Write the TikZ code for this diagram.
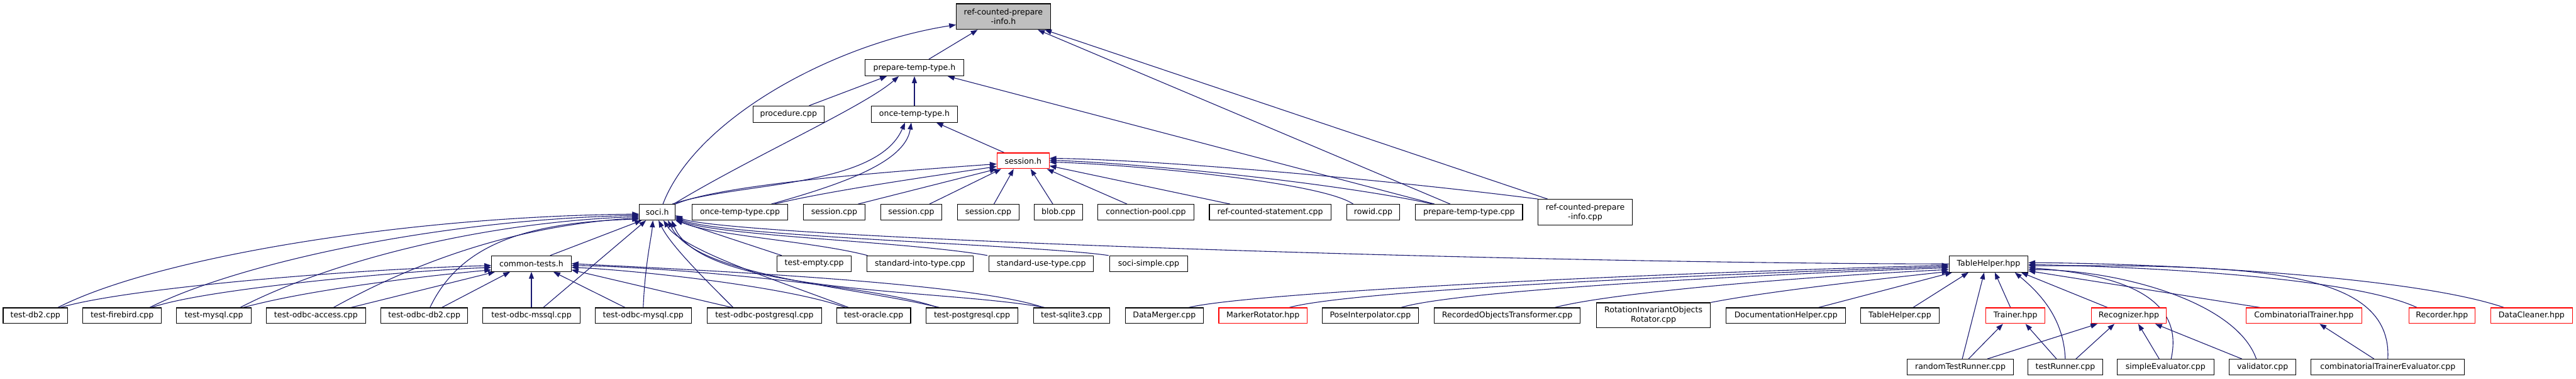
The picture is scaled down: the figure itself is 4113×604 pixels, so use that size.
\documentclass[tikz,border=0pt]{standalone}
\usepackage{fontspec}
\setmainfont{DejaVu Sans}
\usetikzlibrary{arrows.meta}
\definecolor{navy}{HTML}{191970}
\definecolor{boxgray}{HTML}{BFBFBF}
\pgfdeclarelayer{edges}
\pgfsetlayers{edges,main}
\newcommand\nd[7]{\node[#7, minimum width={#4-#2}, minimum height={#5-#3}] (#1) at ({(#2+#4)/2},{(#3+#5)/2}) {#6};}
\begin{document}
\begin{tikzpicture}[x=1pt,y=-1pt,
  box/.style={draw=black, line width=1.1pt, fill=white, rectangle, inner sep=0pt, align=center,
     font=\fontsize{12.6}{15}\selectfont},
  fnode/.style={box},
  rnode/.style={box, draw=red},
  gnode/.style={box, fill=boxgray},
  lnk/.style={draw=navy, line width=1.1pt, -{Triangle[length=11pt,width=8pt]}}]
\useasboundingbox (0,0) rectangle (4113,604);
% nodes
\nd{root}{1527}{6}{1677}{47}{ref-counted-prepare\\-info.h}{gnode}
\nd{ptth}{1381}{95}{1539}{121}{prepare-temp-type.h}{fnode}
\nd{proc}{1202}{169}{1316}{195}{procedure.cpp}{fnode}
\nd{otth}{1391}{169}{1529}{195}{once-temp-type.h}{fnode}
\nd{sessh}{1592}{244}{1675}{269}{session.h}{rnode}
\nd{soci}{1021}{326}{1078}{351}{soci.h}{fnode}
\nd{otcpp}{1105}{326}{1258}{351}{once-temp-type.cpp}{fnode}
\nd{scppa}{1283}{326}{1381}{351}{session.cpp}{fnode}
\nd{scppb}{1406}{326}{1504}{351}{session.cpp}{fnode}
\nd{scppc}{1529}{326}{1627}{351}{session.cpp}{fnode}
\nd{blob}{1651}{326}{1729}{351}{blob.cpp}{fnode}
\nd{cpool}{1753}{326}{1906}{351}{connection-pool.cpp}{fnode}
\nd{rcs}{1931}{326}{2125}{351}{ref-counted-statement.cpp}{fnode}
\nd{rowid}{2150}{326}{2235}{351}{rowid.cpp}{fnode}
\nd{ptcpp}{2260}{326}{2431}{351}{prepare-temp-type.cpp}{fnode}
\nd{rcpi}{2456}{318}{2606}{359}{ref-counted-prepare\\-info.cpp}{fnode}
\nd{common}{785}{408}{912}{433}{common-tests.h}{fnode}
\nd{tempty}{1241}{408}{1359}{433}{test-empty.cpp}{fnode}
\nd{sit}{1384}{408}{1554}{433}{standard-into-type.cpp}{fnode}
\nd{sut}{1579}{408}{1746}{433}{standard-use-type.cpp}{fnode}
\nd{ssimple}{1772}{408}{1896}{433}{soci-simple.cpp}{fnode}
\nd{TH}{3112}{408}{3238}{434}{TableHelper.hpp}{fnode}
\nd{tdb2}{5}{491}{108}{516}{test-db2.cpp}{fnode}
\nd{tfb}{132}{491}{258}{516}{test-firebird.cpp}{fnode}
\nd{tmy}{282}{491}{401}{516}{test-mysql.cpp}{fnode}
\nd{toa}{425}{491}{584}{516}{test-odbc-access.cpp}{fnode}
\nd{todb2}{608}{491}{747}{516}{test-odbc-db2.cpp}{fnode}
\nd{toms}{771}{491}{926}{516}{test-odbc-mssql.cpp}{fnode}
\nd{tomy}{950}{491}{1104}{516}{test-odbc-mysql.cpp}{fnode}
\nd{topg}{1129}{491}{1312}{516}{test-odbc-postgresql.cpp}{fnode}
\nd{tora}{1336}{491}{1454}{516}{test-oracle.cpp}{fnode}
\nd{tpg}{1479}{491}{1625}{516}{test-postgresql.cpp}{fnode}
\nd{tsq}{1650}{491}{1772}{516}{test-sqlite3.cpp}{fnode}
\nd{dm}{1797}{491}{1921}{516}{DataMerger.cpp}{fnode}
\nd{mr}{1946}{491}{2087}{516}{MarkerRotator.hpp}{rnode}
\nd{pi}{2111}{491}{2265}{516}{PoseInterpolator.cpp}{fnode}
\nd{rot}{2290}{491}{2523}{516}{RecordedObjectsTransformer.cpp}{fnode}
\nd{rior}{2549}{483}{2731}{523}{RotationInvariantObjects\\Rotator.cpp}{fnode}
\nd{doc}{2756}{491}{2947}{516}{DocumentationHelper.cpp}{fnode}
\nd{thcpp}{2971}{491}{3096}{516}{TableHelper.cpp}{fnode}
\nd{trainer}{3171}{491}{3265}{516}{Trainer.hpp}{rnode}
\nd{recog}{3339}{491}{3459}{516}{Recognizer.hpp}{rnode}
\nd{ctrain}{3586}{491}{3771}{516}{CombinatorialTrainer.hpp}{rnode}
\nd{recorder}{3846}{491}{3952}{516}{Recorder.hpp}{rnode}
\nd{dclean}{3977}{491}{4107}{516}{DataCleaner.hpp}{rnode}
\nd{rtr}{3045}{573}{3215}{598}{randomTestRunner.cpp}{fnode}
\nd{tr}{3238}{573}{3357}{598}{testRunner.cpp}{fnode}
\nd{se}{3380}{573}{3535}{598}{simpleEvaluator.cpp}{fnode}
\nd{val}{3559}{573}{3666}{598}{validator.cpp}{fnode}
\nd{cte}{3690}{573}{3935}{598}{combinatorialTrainerEvaluator.cpp}{fnode}
\begin{pgfonlayer}{edges}
% into root
\draw[lnk] ([xshift=9pt]soci.north) .. controls (1110,190) and (1330,70) .. ([yshift=-13pt]root.west);
\draw[lnk] ([xshift=23pt]ptth.north) -- ([xshift=-41pt]root.south);
\draw[lnk] ([xshift=-30pt]ptcpp.north) -- ([xshift=55pt]root.south);
\draw[lnk] ([xshift=-60pt]rcpi.north) -- ([xshift=66pt]root.south);
% into prepare-temp-type.h
\draw[lnk] ([xshift=33pt]proc.north) -- ([xshift=-44pt]ptth.south);
\draw[lnk] ([xshift=26pt]soci.north) .. controls (1200,250) and (1380,170) .. ([xshift=-25pt]ptth.south);
\draw[lnk] (otth.north) -- (ptth.south);
\draw[lnk] ([xshift=-55pt]ptcpp.north) -- ([xshift=53pt]ptth.south);
% into once-temp-type.h
\draw[lnk] ([xshift=-30pt]sessh.north) -- ([xshift=35pt]otth.south);
\draw[lnk] ([xshift=24pt]soci.north) .. controls (1180,290) and (1400,300) .. ([xshift=-15pt]otth.south);
\draw[lnk] ([xshift=50pt]otcpp.north) .. controls (1340,295) and (1445,260) .. ([xshift=-5pt]otth.south);
% into session.h
\draw[lnk] (soci.north east) .. controls (1150,295) and (1400,275) .. ([yshift=-5pt]sessh.west);
\draw[lnk] ([xshift=55pt]otcpp.north) .. controls (1320,305) and (1480,282) .. ([yshift=-9pt]sessh.west);
\draw[lnk] ([xshift=38pt]scppa.north) -- (sessh.south west);
\draw[lnk] ([xshift=29pt]scppb.north) -- ([xshift=-35pt]sessh.south);
\draw[lnk] ([xshift=9pt]scppc.north) -- ([xshift=-15pt]sessh.south);
\draw[lnk] ([xshift=-9pt]blob.north) -- ([xshift=12pt]sessh.south);
\draw[lnk] ([xshift=-30pt]cpool.north) -- ([xshift=38pt]sessh.south);
\draw[lnk] ([xshift=-64pt]rcs.north) -- ([yshift=-8pt]sessh.east);
\draw[lnk] ([xshift=-32pt]rowid.north) .. controls (2110,290) and (1800,262) .. ([yshift=-2pt]sessh.east);
\draw[lnk] ([xshift=-58pt]ptcpp.north) .. controls (2150,295) and (1850,262) .. ([yshift=1pt]sessh.east);
\draw[lnk] (rcpi.north west) .. controls (2200,285) and (1850,255) .. ([yshift=4pt]sessh.east);
% into soci.h
\draw[lnk] ([xshift=36pt]tdb2.north) .. controls (250,410) and (650,345) .. ([yshift=-3pt]soci.west);
\draw[lnk] ([xshift=44pt]tfb.north) .. controls (380,420) and (700,350) .. ([yshift=-5pt]soci.west);
\draw[lnk] ([xshift=42pt]tmy.north) .. controls (520,420) and (760,355) .. ([yshift=-7pt]soci.west);
\draw[lnk] ([xshift=28pt]toa.north) .. controls (660,420) and (820,360) .. ([yshift=-9pt]soci.west);
\draw[lnk] ([xshift=9pt]todb2.north) .. controls (730,400) and (820,355) .. ([yshift=-11pt]soci.west);
\draw[lnk] ([xshift=30pt]common.north) -- ([xshift=-25pt]soci.south);
\draw[lnk] ([xshift=19pt]toms.north) -- ([xshift=-18pt]soci.south);
\draw[lnk] (tomy.north) .. controls (1030,420) and (1040,380) .. ([xshift=-7pt]soci.south);
\draw[lnk] ([xshift=-50pt]topg.north) .. controls (1120,440) and (1070,390) .. ([xshift=2pt]soci.south);
\draw[lnk] ([xshift=-40pt]tora.north) .. controls (1250,450) and (1090,400) .. ([xshift=10pt]soci.south);
\draw[lnk] ([xshift=-52pt]tpg.north) .. controls (1350,455) and (1110,440) .. ([xshift=17pt]soci.south);
\draw[lnk] ([xshift=-43pt]tsq.north) .. controls (1500,460) and (1120,470) .. ([xshift=23pt]soci.south);
\draw[lnk] ([xshift=-52pt]tempty.north) -- (soci.south east);
\draw[lnk] ([xshift=-84pt]sit.north) .. controls (1300,385) and (1130,375) .. ([yshift=2pt]soci.south east);
\draw[lnk] ([xshift=-86pt]sut.north) .. controls (1450,385) and (1135,376) .. ([yshift=4pt]soci.south east);
\draw[lnk] ([xshift=-64pt]ssimple.north) .. controls (1650,390) and (1140,377) .. ([yshift=6pt]soci.south east);
\draw[lnk] (TH.west) .. controls (2400,420) and (1145,378) .. ([yshift=8pt]soci.south east);
% into common-tests.h
\draw[lnk] ([xshift=40pt]tdb2.north) .. controls (200,460) and (550,430) .. ([yshift=-3pt]common.west);
\draw[lnk] ([xshift=47pt]tfb.north) .. controls (330,460) and (650,432) .. ([yshift=-6pt]common.west);
\draw[lnk] ([xshift=47pt]tmy.north) .. controls (500,460) and (700,438) .. ([yshift=-10pt]common.west);
\draw[lnk] ([xshift=56pt]toa.north) -- ([xshift=-58pt]common.south);
\draw[lnk] ([xshift=28pt]todb2.north) -- ([xshift=-34pt]common.south);
\draw[lnk] (toms.north) -- (common.south);
\draw[lnk] ([xshift=-29pt]tomy.north) -- ([xshift=35pt]common.south);
\draw[lnk] ([xshift=-52pt]topg.north) -- ([yshift=-10pt]common.east);
\draw[lnk] ([xshift=-45pt]tora.north) .. controls (1250,455) and (1000,430) .. ([yshift=-6pt]common.east);
\draw[lnk] ([xshift=-55pt]tpg.north) .. controls (1400,455) and (1050,425) .. ([yshift=-3pt]common.east);
\draw[lnk] ([xshift=-45pt]tsq.north) .. controls (1550,450) and (1100,430) .. (common.east);
% into TableHelper.hpp
\draw[lnk] ([xshift=39pt]dm.north) .. controls (1980,470) and (2500,440) .. ([yshift=-2pt]TH.west);
\draw[lnk] ([xshift=42pt]mr.north) .. controls (2150,465) and (2650,440) .. ([yshift=-4pt]TH.west);
\draw[lnk] ([xshift=49pt]pi.north) .. controls (2320,465) and (2750,440) .. ([yshift=-6pt]TH.west);
\draw[lnk] ([xshift=76pt]rot.north) .. controls (2580,465) and (2900,440) .. ([yshift=-9pt]TH.west);
\draw[lnk] (rior.north east) .. controls (2820,465) and (3000,445) .. ([yshift=-12pt]TH.west);
\draw[lnk] ([xshift=52pt]doc.north) -- ([xshift=-58pt]TH.south);
\draw[lnk] ([xshift=21pt]thcpp.north) -- ([xshift=-32pt]TH.south);
\draw[lnk] ([xshift=-8pt]trainer.north) -- ([xshift=10pt]TH.south);
\draw[lnk] ([xshift=-34pt]recog.north) -- ([xshift=52pt]TH.south);
\draw[lnk] ([xshift=3pt]rtr.north) -- ([xshift=-7pt]TH.south);
\draw[lnk] (tr.north) .. controls (3295,510) and (3260,470) .. ([xshift=42pt]TH.south);
\draw[lnk] ([xshift=9pt]se.north) .. controls (3485,490) and (3420,440) .. ([yshift=-6pt]TH.east);
\draw[lnk] ([xshift=-10pt]val.north) .. controls (3570,480) and (3380,430) .. ([yshift=-9pt]TH.east);
\draw[lnk] ([xshift=-70pt]ctrain.north) -- ([yshift=-11pt]TH.east);
\draw[lnk] ([xshift=-40pt]recorder.north) .. controls (3750,440) and (3400,425) .. ([yshift=-1pt]TH.east);
\draw[lnk] (cte.north) .. controls (3820,430) and (3600,422) .. ([yshift=-3pt]TH.east);
\draw[lnk] ([xshift=-44pt]dclean.north) .. controls (3850,440) and (3450,420) .. ([yshift=2pt]TH.east);
% into Trainer / Recognizer / CombinatorialTrainer
\draw[lnk] ([xshift=13pt]rtr.north) -- ([xshift=-20pt]trainer.south);
\draw[lnk] ([xshift=-14pt]tr.north) -- ([xshift=16pt]trainer.south);
\draw[lnk] ([xshift=43pt]rtr.north) -- ([xshift=-50pt]recog.south);
\draw[lnk] ([xshift=17pt]tr.north) -- ([xshift=-23pt]recog.south);
\draw[lnk] ([xshift=-10pt]se.north) -- ([xshift=15pt]recog.south);
\draw[lnk] ([xshift=-33pt]val.north) -- ([xshift=42pt]recog.south);
\draw[lnk] ([xshift=-22pt]cte.north) -- ([xshift=25pt]ctrain.south);
\end{pgfonlayer}
\end{tikzpicture}
\end{document}
